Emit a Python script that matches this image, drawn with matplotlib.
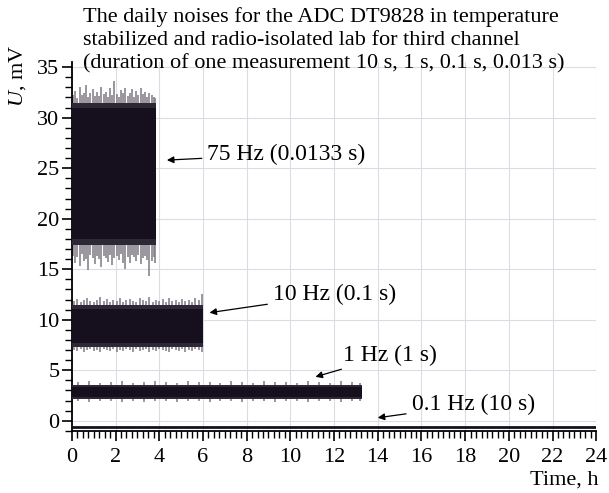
import matplotlib
matplotlib.use("Agg")
import matplotlib.pyplot as plt
from matplotlib.ticker import MultipleLocator

plt.rcParams['font.family'] = ['Liberation Serif', 'DejaVu Serif']
plt.rcParams['mathtext.fontset'] = 'custom'
plt.rcParams['mathtext.it'] = 'Liberation Serif:italic'
plt.rcParams['mathtext.rm'] = 'Liberation Serif'

# Band data (hours, mV): dense core band, fuzzy edge, and individual spikes
t75 = [0.0, 3.85]
core75_lo = [18.0, 18.0]
core75_hi = [31.0, 31.0]
fuzz75_lo = [17.4, 17.4]
fuzz75_hi = [31.5, 31.5]
s75_t = [0.05, 0.15, 0.25, 0.35, 0.45, 0.55, 0.65, 0.75, 0.85, 0.95, 1.05, 1.15, 1.25,
         1.35, 1.45, 1.55, 1.65, 1.75, 1.85, 1.95, 2.05, 2.15, 2.25, 2.35, 2.45, 2.55,
         2.65, 2.75, 2.85, 2.95, 3.05, 3.15, 3.25, 3.35, 3.45, 3.55, 3.65, 3.75, 3.82]
s75_hi = [32.2, 32.6, 31.9, 33.0, 32.2, 32.4, 33.2, 32.0, 32.4, 32.8, 32.1, 32.5, 32.1,
          33.0, 32.3, 32.5, 32.0, 32.9, 32.2, 33.6, 32.3, 32.0, 32.7, 32.4, 32.9, 32.1,
          32.4, 32.8, 32.0, 32.6, 32.2, 32.9, 32.3, 32.5, 32.0, 32.4, 32.2, 32.0, 31.9]
s75_lo = [16.3, 15.6, 16.2, 15.3, 16.5, 15.8, 16.0, 14.9, 16.4, 16.1, 15.5, 16.3, 16.0,
          15.2, 16.3, 16.1, 15.7, 16.4, 15.4, 16.1, 16.3, 15.9, 16.5, 15.6, 15.0, 16.2,
          15.6, 16.4, 16.2, 15.8, 16.4, 15.5, 16.1, 16.3, 15.9, 14.3, 15.8, 16.2, 15.6]

t10 = [0.0, 6.0]
core10_lo = [7.7, 7.7]
core10_hi = [11.1, 11.1]
fuzz10_lo = [7.35, 7.35]
fuzz10_hi = [11.45, 11.45]
s10_t = [0.1, 0.25, 0.4, 0.55, 0.7, 0.85, 1.0, 1.15, 1.3, 1.45, 1.6, 1.75, 1.9, 2.05,
         2.2, 2.35, 2.5, 2.65, 2.8, 2.95, 3.1, 3.25, 3.4, 3.55, 3.7, 3.85, 4.0, 4.15,
         4.3, 4.45, 4.6, 4.75, 4.9, 5.05, 5.2, 5.35, 5.5, 5.65, 5.8, 5.95]
s10_hi = [11.9, 12.1, 11.8, 12.0, 12.2, 11.9, 11.8, 12.0, 12.3, 11.9, 12.1, 11.8, 12.0,
          11.9, 12.2, 11.8, 12.0, 12.1, 11.9, 11.8, 12.2, 12.0, 11.9, 12.3, 11.8, 12.0,
          11.9, 12.1, 11.8, 12.2, 11.9, 12.0, 11.8, 12.1, 11.9, 12.0, 11.8, 12.2, 12.0, 12.5]
s10_lo = [7.0, 6.9, 7.1, 6.8, 7.0, 7.1, 6.9, 7.0, 6.8, 7.1, 7.0, 6.9, 7.1, 6.8,
          7.0, 6.9, 7.1, 7.0, 6.8, 7.1, 6.9, 7.0, 7.1, 6.8, 7.0, 6.9, 7.1, 7.0,
          6.9, 6.8, 7.1, 7.0, 6.9, 7.1, 6.8, 7.0, 6.9, 7.1, 7.0, 6.8]

t1 = [0.0, 13.3]
core1_lo = [2.4, 2.4]
core1_hi = [3.3, 3.3]
fuzz1_lo = [2.15, 2.15]
fuzz1_hi = [3.55, 3.55]
s1_t = [0.3, 0.8, 1.3, 1.8, 2.3, 2.8, 3.3, 3.8, 4.3, 4.8, 5.3, 5.8, 6.3, 6.8, 7.3,
        7.8, 8.3, 8.8, 9.3, 9.8, 10.3, 10.8, 11.3, 11.8, 12.3, 12.8, 13.2]
s1_hi = [3.8, 3.9, 3.7, 3.8, 3.9, 3.7, 3.8, 3.9, 3.8, 3.7, 3.9, 3.8, 3.8, 3.7, 3.9,
         3.8, 3.7, 3.9, 3.8, 3.8, 3.7, 3.9, 3.8, 3.7, 3.9, 3.8, 3.7]
s1_lo = [2.0, 1.9, 2.0, 2.0, 1.9, 2.0, 1.9, 2.0, 2.0, 1.9, 2.0, 2.0, 1.9, 2.0, 2.0,
         1.9, 2.0, 2.0, 1.9, 2.0, 2.0, 1.9, 2.0, 2.0, 1.9, 2.0, 2.0]

t01 = [0.0, 24.0]
core01 = [-0.6, -0.6]

labels = ["75 Hz (0.0133 s)", "10 Hz (0.1 s)", "1 Hz (1 s)", "0.1 Hz (10 s)"]
label_xy = [(6.2, 26.4), (9.2, 12.5), (12.4, 6.5), (15.55, 1.6)]
arrow_tip = [(4.35, 25.8), (6.3, 10.7), (11.15, 4.35), (14.0, 0.3)]

xticks = list(range(0, 25, 2))
yticks = list(range(0, 36, 5))

fig = plt.figure(figsize=(6.09, 4.93), dpi=100)
ax = fig.add_axes([0.118, 0.126, 0.861, 0.748])

dark = '#150f1e'
spike_col = '#7d7984'
groups = [
    (t75, core75_lo, core75_hi, fuzz75_lo, fuzz75_hi, s75_t, s75_lo, s75_hi),
    (t10, core10_lo, core10_hi, fuzz10_lo, fuzz10_hi, s10_t, s10_lo, s10_hi),
    (t1, core1_lo, core1_hi, fuzz1_lo, fuzz1_hi, s1_t, s1_lo, s1_hi),
]
for t, clo, chi, flo, fhi, st, slo, shi in groups:
    ax.vlines(st, slo, shi, color=spike_col, lw=1.1, zorder=2)
    ax.fill_between(t, flo, fhi, color='#2e2836', lw=0, zorder=3)
    ax.fill_between(t, clo, chi, color=dark, lw=0, zorder=4)
ax.plot(t01, core01, color=dark, lw=2.0, zorder=4)

for lab, (tx, ty), (ax_, ay) in zip(labels, label_xy, arrow_tip):
    ax.annotate(lab, xy=(ax_, ay), xytext=(tx, ty), fontsize=17,
                va='center', ha='left', zorder=5,
                arrowprops=dict(arrowstyle='-|>', color='black', lw=0.9,
                                mutation_scale=10, shrinkA=2, shrinkB=0))

ax.set_xlim(0, 24)
ax.set_ylim(-1.0, 35.5)
ax.set_xticks(xticks)
ax.set_yticks(yticks)
ax.xaxis.set_minor_locator(MultipleLocator(0.25))
ax.yaxis.set_minor_locator(MultipleLocator(1))
ax.tick_params(axis='both', which='major', direction='out', length=7, width=1.2,
               labelsize=16)
ax.tick_params(axis='x', which='major', pad=5)
ax.tick_params(axis='y', which='major', pad=2)
ax.tick_params(axis='both', which='minor', direction='out', length=5, width=1.0)
ax.grid(True, which='major', color='#dcdce4', lw=0.8, zorder=0)
ax.set_axisbelow(True)
for s in ['top', 'right']:
    ax.spines[s].set_visible(False)
for s in ['left', 'bottom']:
    ax.spines[s].set_linewidth(1.3)

fig.text(0.137, 0.965, "The daily noises for the ADC DT9828 in temperature",
         fontsize=16, ha='left', va='center')
fig.text(0.137, 0.918, "stabilized and radio-isolated lab for third channel",
         fontsize=16, ha='left', va='center')
fig.text(0.137, 0.871, "(duration of one measurement 10 s, 1 s, 0.1 s, 0.013 s)",
         fontsize=16, ha='left', va='center')

fig.text(0.028, 0.846, "$U$, mV", rotation=90, fontsize=16, ha='center', va='center')
fig.text(0.982, 0.026, "Time, h", fontsize=16, ha='right', va='center')

fig.savefig("out.png", dpi=100)
